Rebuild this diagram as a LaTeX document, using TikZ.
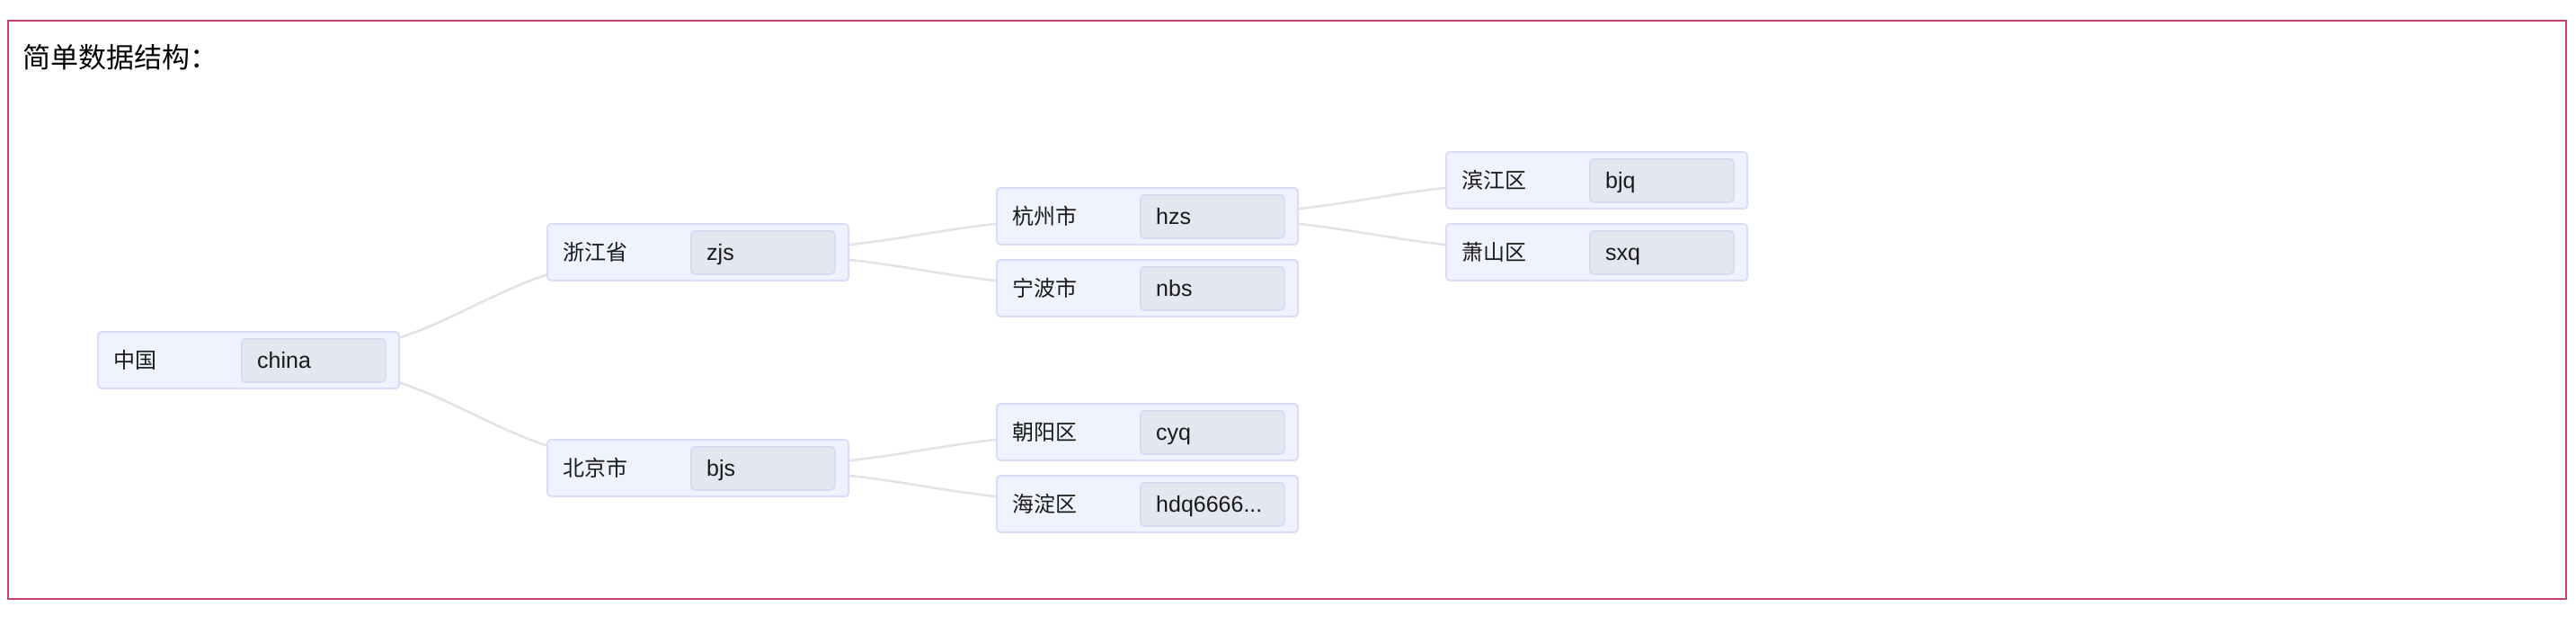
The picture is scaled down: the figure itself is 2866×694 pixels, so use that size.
\documentclass[tikz,border=0pt]{standalone}
\usepackage{fontspec}
\setmainfont{Liberation Sans}
\newfontfamily\cjk{Noto Sans CJK SC}
\definecolor{framec}{HTML}{C8446E}
\definecolor{outerfill}{HTML}{F0F3FD}
\definecolor{outerdraw}{HTML}{D9DEF6}
\definecolor{innerfill}{HTML}{E4E7F0}
\definecolor{innerdraw}{HTML}{D6DAF0}
\definecolor{linkc}{HTML}{E3E3E3}
\definecolor{txt}{HTML}{1A1A1A}
\pgfdeclarelayer{bglayer}
\pgfsetlayers{bglayer,main}
\tikzset{
  outerbox/.style={draw=outerdraw, fill=outerfill, line width=2pt, rounded corners=4pt,
    minimum width=335pt, minimum height=63pt, inner sep=0pt, anchor=north west},
  innerbox/.style={draw=innerdraw, fill=innerfill, line width=1.6pt, rounded corners=4pt,
    minimum width=160pt, minimum height=48pt, inner sep=0pt, anchor=north west},
  keytext/.style={font=\cjk\fontsize{24}{28}\selectfont, text=txt, inner sep=0pt, anchor=base west},
  valtext/.style={font=\fontsize{25}{29}\selectfont, text=txt, inner sep=0pt, anchor=base west},
  link/.style={draw=linkc, line width=2.6pt},
  framebox/.style={draw=framec, line width=2pt}
}
\newcommand\kvnode[5]{%
  \node[outerbox] (#1) at (#2,#3) {};
  \node[innerbox] (#1v) at (#2+160,#3+8) {};
  \node[keytext] (#1k) at (#2+18,#3+41) {#4};
  \node[valtext] (#1t) at (#2+178,#3+41) {#5};
}
\newcommand\linkto[2]{%
  \draw[link] (#1.center) .. controls +(250,0) and +(-250,0) .. (#2.center);
}
\begin{document}
\begin{tikzpicture}[x=1pt, y=-1pt]
\useasboundingbox (0,0) rectangle (2866,694);
\draw[framebox] (9,23) rectangle (2855,666);
\node[font=\cjk\fontsize{31}{36}\selectfont, text=black, inner sep=0pt, anchor=base west] (title) at (25,75) {简单数据结构：};
\kvnode{cn}{108}{368}{中国}{china}
\kvnode{zj}{608}{248}{浙江省}{zjs}
\kvnode{bj}{608}{488}{北京市}{bjs}
\kvnode{hz}{1108}{208}{杭州市}{hzs}
\kvnode{nb}{1108}{288}{宁波市}{nbs}
\kvnode{cy}{1108}{448}{朝阳区}{cyq}
\kvnode{hd}{1108}{528}{海淀区}{hdq6666...}
\kvnode{bq}{1608}{168}{滨江区}{bjq}
\kvnode{sx}{1608}{248}{萧山区}{sxq}
\begin{pgfonlayer}{bglayer}
\linkto{cn}{zj}
\linkto{cn}{bj}
\linkto{zj}{hz}
\linkto{zj}{nb}
\linkto{bj}{cy}
\linkto{bj}{hd}
\linkto{hz}{bq}
\linkto{hz}{sx}
\end{pgfonlayer}
\end{tikzpicture}
\end{document}
